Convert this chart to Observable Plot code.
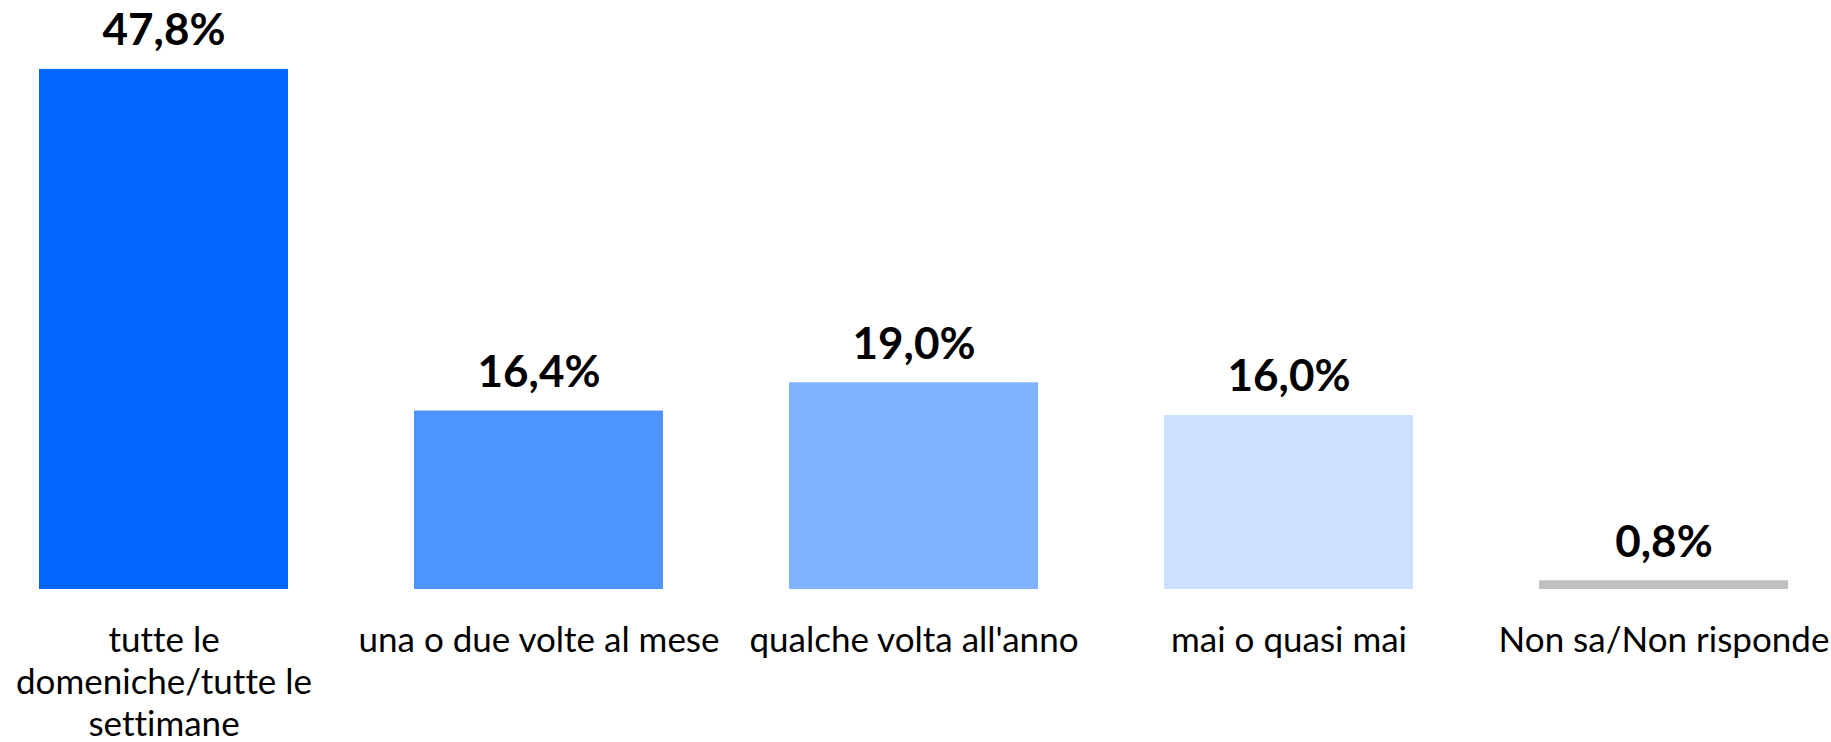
<!DOCTYPE html>
<html>
<head>
<meta charset="utf-8">
<script src="https://cdn.jsdelivr.net/npm/d3@7"></script>
<script src="https://cdn.jsdelivr.net/npm/@observablehq/plot@0.6"></script>
<style>
  html, body { margin: 0; padding: 0; background: #fff; }
  #chart svg { display: block; }
  #chart svg text { font-variant-ligatures: none; font-feature-settings: "liga" 0, "clig" 0; }
</style>
</head>
<body>
<div id="chart"></div>
<script>
const categories = [
  "tutte le domeniche/tutte le settimane",
  "una o due volte al mese",
  "qualche volta all'anno",
  "mai o quasi mai",
  "Non sa/Non risponde"
];
const tickLabels = [
  "tutte le\ndomeniche/tutte le\nsettimane",
  "una o due volte al mese",
  "qualche volta all'anno",
  "mai o quasi mai",
  "Non sa/Non risponde"
];
const values = [47.8, 16.4, 19.0, 16.0, 0.8];
const colors = ["#0066FF", "#4D94FF", "#80B3FF", "#CCE0FF", "#BFBFBF"];

const data = categories.map((c, i) => ({cat: c, value: values[i], color: colors[i]}));
const labelOf = new Map(categories.map((c, i) => [c, tickLabels[i]]));
const fmt = v => v.toFixed(1).replace(".", ",") + "%";

const chart = Plot.plot({
  width: 1831,
  height: 742,
  marginLeft: 0,
  marginRight: 5,
  marginTop: 45,
  marginBottom: 153,
  style: {fontFamily: "Lato, 'Open Sans', sans-serif", color: "#000", background: "#fff"},
  x: {domain: categories, paddingInner: 0.337, paddingOuter: 0.1, axis: null},
  y: {domain: [0, 50], axis: null},
  marks: [
    Plot.barY(data, {x: "cat", y: "value", fill: "color"}),
    Plot.text(data, {x: "cat", y: "value", text: d => fmt(d.value), dy: -24, lineAnchor: "bottom",
      fontSize: 44, fontWeight: "bold", fill: "#000"}),
    Plot.axisX({tickSize: 0, tickPadding: 33, fontSize: 35, lineHeight: 1.2, label: null,
      tickFormat: d => labelOf.get(d), fill: "#000"})
  ]
});
document.getElementById("chart").appendChild(chart);
</script>
</body>
</html>
